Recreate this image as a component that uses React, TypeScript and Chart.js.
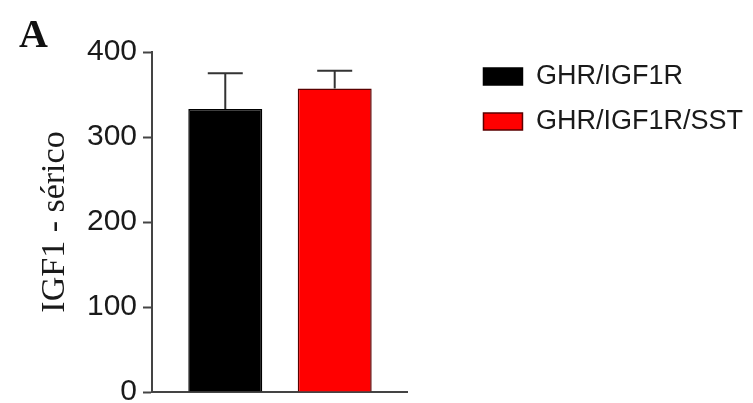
import React, { useEffect, useRef } from "react";
import { Chart, registerables } from "chart.js";

Chart.register(...registerables);

// Group labels, means and upper SEM values
const categories = [""];
const seriesLabels = ["GHR/IGF1R", "GHR/IGF1R/SST"];
const meanValues = [333, 357];
const errorValues = [42, 21];
const seriesColors = ["#000000", "#ff0000"];
const seriesBorders = ["#000000", "#5a0000"];
const yAxisTitle = "IGF1 - sérico";
const panelLetter = "A";
const yMin = 0;
const yMax = 400;
const yStep = 100;

const SANS = "Arial, 'Liberation Sans', sans-serif";
const SERIF = "'Times New Roman', 'Liberation Serif', serif";

// Upper error bars drawn from each bar's top through the y scale
const errorBarPlugin = {
  id: "errorBars",
  afterDatasetsDraw(chart: any) {
    const { ctx } = chart;
    const yScale = chart.scales.y;
    chart.data.datasets.forEach((ds: any, i: number) => {
      const meta = chart.getDatasetMeta(i);
      meta.data.forEach((bar: any, j: number) => {
        const v = ds.data[j];
        const err = ds.errors[j];
        const yTop = yScale.getPixelForValue(v + err);
        const yBar = yScale.getPixelForValue(v);
        const x = bar.x;
        const half = 17.5;
        ctx.save();
        ctx.strokeStyle = "#333333";
        ctx.lineWidth = 2;
        ctx.beginPath();
        ctx.moveTo(x, yBar);
        ctx.lineTo(x, yTop);
        ctx.moveTo(x - half, yTop);
        ctx.lineTo(x + half, yTop);
        ctx.stroke();
        ctx.restore();
      });
    });
  },
};

// Panel letter in the top-left corner
const panelLetterPlugin = {
  id: "panelLetter",
  afterDraw(chart: any) {
    const { ctx } = chart;
    ctx.save();
    ctx.fillStyle = "#111111";
    ctx.font = `bold 40px ${SERIF}`;
    ctx.textAlign = "left";
    ctx.textBaseline = "alphabetic";
    ctx.fillText(panelLetter, 19, 47);
    ctx.restore();
  },
};

const whiteBackground = {
  id: "whiteBackground",
  beforeDraw(chart: any) {
    const { ctx, width, height } = chart;
    ctx.save();
    ctx.fillStyle = "#ffffff";
    ctx.fillRect(0, 0, width, height);
    ctx.restore();
  },
};

export default function App() {
  const canvasRef = useRef<HTMLCanvasElement | null>(null);

  useEffect(() => {
    if (!canvasRef.current) return;
    const datasets = seriesLabels.map((label, i) => ({
      label,
      data: [meanValues[i]],
      errors: [errorValues[i]],
      backgroundColor: seriesColors[i],
      borderColor: seriesBorders[i],
      borderWidth: 1.5,
      xAxisID: "x",
      yAxisID: "y",
    }));

    const chart = new Chart(canvasRef.current, {
      type: "bar",
      data: { labels: categories, datasets: datasets as any },
      options: {
        animation: false,
        responsive: true,
        maintainAspectRatio: false,
        datasets: {
          bar: { categoryPercentage: 0.855, barPercentage: 0.676 },
        },
        layout: { padding: { top: 45, bottom: 11, left: 0, right: 0 } },
        plugins: {
          tooltip: { enabled: false },
          legend: {
            position: "right",
            align: "start",
            fullSize: true,
            maxWidth: 320,
            labels: {
              boxWidth: 39,
              boxHeight: 17,
              padding: 18,
              color: "#1a1a1a",
              font: { family: SANS, size: 27 },
            },
          },
        },
        scales: {
          x: {
            type: "category",
            position: "bottom",
            grid: { display: false, drawTicks: false },
            ticks: { display: false },
            border: { display: true, color: "#444444", width: 2 },
            afterFit(scale: any) {
              scale.height = 0;
            },
          },
          xTopSpacer: {
            type: "linear",
            axis: "x",
            position: "top",
            display: true,
            grid: { display: false, drawTicks: false },
            ticks: { display: false },
            border: { display: false },
            afterFit(scale: any) {
              scale.height = 7;
            },
          },
          yRightSpacer: {
            type: "linear",
            axis: "y",
            position: "right",
            display: true,
            grid: { display: false, drawTicks: false },
            ticks: { display: false },
            border: { display: false },
            afterFit(scale: any) {
              scale.width = 57.5;
              scale.paddingTop = 0;
              scale.paddingBottom = 0;
            },
          },
          y: {
            type: "linear",
            position: "left",
            min: yMin,
            max: yMax,
            ticks: {
              stepSize: yStep,
              padding: 6,
              color: "#1a1a1a",
              font: { family: SANS, size: 30 },
            },
            grid: {
              display: true,
              drawOnChartArea: false,
              drawTicks: true,
              tickLength: 9,
              tickWidth: 2,
              tickColor: "#444444",
            },
            border: { display: true, color: "#444444", width: 2 },
            title: {
              display: true,
              text: yAxisTitle,
              color: "#1a1a1a",
              font: { family: SERIF, size: 34 },
              padding: { top: 35, bottom: 0 },
            },
            afterFit(scale: any) {
              scale.width = 152;
              scale.paddingTop = 0;
              scale.paddingBottom = 0;
            },
          },
        } as any,
      },
      plugins: [whiteBackground, errorBarPlugin, panelLetterPlugin],
    });

    return () => chart.destroy();
  }, []);

  return (
    <div
      style={{
        position: "absolute",
        left: 0,
        top: 0,
        width: 753,
        height: 403,
        background: "#ffffff",
      }}
    >
      <canvas ref={canvasRef} />
    </div>
  );
}
